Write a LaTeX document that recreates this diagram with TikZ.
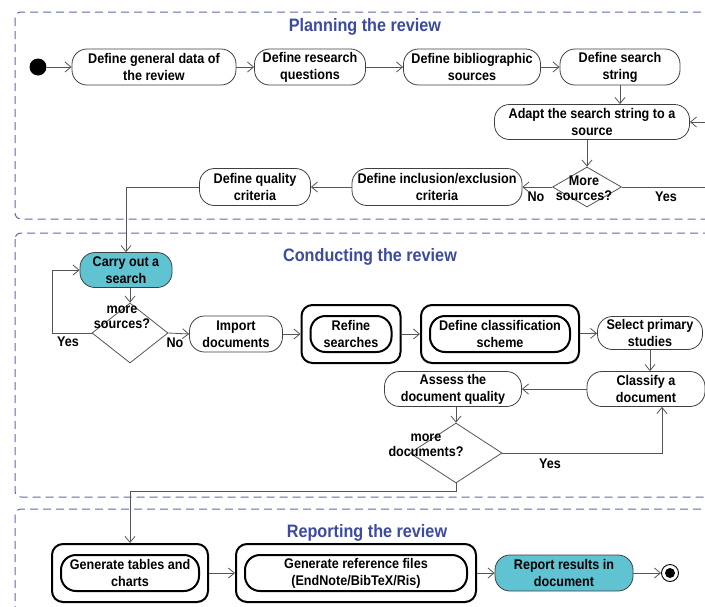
\documentclass[tikz,border=0pt]{standalone}
\usepackage{fontspec}
\setmainfont{Liberation Sans}[FakeStretch=0.9]
\usetikzlibrary{shapes.geometric,arrows.meta,fit}
\definecolor{panelblue}{RGB}{95,105,175}
\definecolor{titleblue}{RGB}{60,75,160}
\definecolor{actcyan}{RGB}{95,195,210}
\definecolor{flowgray}{RGB}{85,85,85}
\tikzset{
  act/.style={draw=black!75, line width=0.8pt, rounded corners=15pt, fill=white, align=center,
    font=\bfseries\fontsize{14}{17}\selectfont, inner sep=1pt, minimum height=36pt},
  actcyan/.style={act, fill=actcyan},
  actbold/.style={act, draw=black, line width=2pt},
  outerframe/.style={draw=black, line width=2pt, rounded corners=11pt, inner xsep=8pt, inner ysep=10pt},
  choice/.style={diamond, draw=flowgray, line width=0.8pt, inner sep=0pt},
  choicetext/.style={align=center, font=\bfseries\fontsize{14}{15}\selectfont, inner sep=0pt},
  guard/.style={font=\bfseries\fontsize{14}{14}\selectfont, inner sep=0pt},
  flow/.style={draw=flowgray, line width=0.8pt, -{Straight Barb[length=6pt,width=10pt]}},
  panel/.style={draw=panelblue, line width=1pt, dash pattern=on 8pt off 5pt, rounded corners=6pt},
  paneltitle/.style={text=titleblue, font=\bfseries\fontsize{18}{20}\selectfont}
}
\begin{document}
\begin{tikzpicture}[x=1pt,y=-1pt]
\clip (0,0) rectangle (705,606);
\fill[white] (0,0) rectangle (705,606);
% swimlanes
\draw[panel] (15,12) rectangle (730,219);
\draw[panel] (15,233) rectangle (730,497);
\draw[panel] (15,509) rectangle (730,625);
\node[paneltitle] (plan) at (365,27) {Planning the review};
\node[paneltitle] (cond) at (370,257) {Conducting the review};
\node[paneltitle] (rep) at (367,533) {Reporting the review};

% planning
\node[circle, fill=black, minimum size=17pt, inner sep=0pt] (start) at (38,67) {};
\node[act, minimum width=164pt] (gen) at (154,67) {Define general data of\\the review};
\node[act, minimum width=111pt] (rq) at (310,67) {Define research\\questions};
\node[act, minimum width=137pt] (bib) at (472,67) {Define bibliographic\\sources};
\node[act, minimum width=120pt] (str) at (620,67) {Define search\\string};
\node[act, minimum width=195pt, minimum height=35pt] (adapt) at (592,122) {Adapt the search string to a\\source};
\node[choice, minimum width=69pt, minimum height=40pt] (d1) at (587,187) {};
\node[choicetext] (d1t) at (584,188) {More\\sources?};
\node[act, minimum width=170pt, minimum height=37pt] (incl) at (437,187) {Define inclusion/exclusion\\criteria};
\node[act, minimum width=111pt, minimum height=37pt] (qual) at (255,187) {Define quality\\criteria};
\coordinate (yes1) at (725,187);
\node[guard] (no1) at (536,197) {No};
\node[guard] (y1) at (666,197) {Yes};

\draw[flow] (start) -- (gen);
\draw[flow] (gen) -- (rq);
\draw[flow] (rq) -- (bib);
\draw[flow] (bib) -- (str);
\draw[flow] (str.south) -- (str.south |- adapt.north);
\draw[flow] (adapt.south -| d1.north) -- (d1.north);
\draw[flow] (d1.west) -- (incl.east);
\draw[flow] (d1.east) -- (yes1) |- (adapt.east);
\draw[flow] (incl) -- (qual);

% conducting
\node[actcyan, minimum width=92pt, minimum height=35pt] (carry) at (126,270) {Carry out a\\search};
\node[choice, minimum width=76pt, minimum height=60pt] (d2) at (130,333) {};
\node[choicetext] (d2t) at (122,317) {more\\sources?};
\coordinate (yes2) at (52,333);
\node[guard] (y2) at (68,342) {Yes};
\node[guard] (no2) at (175,343) {No};
\node[act, minimum width=93pt] (imp) at (236,334) {Import\\documents};
\node[actbold, minimum width=81pt] (ref) at (351,334) {Refine\\searches};
\node[outerframe, fit=(ref)] (reff) {};
\node[actbold, minimum width=140pt] (cls) at (500,334) {Define classification\\scheme};
\node[outerframe, fit=(cls)] (clsf) {};
\node[act, minimum width=105pt, minimum height=33pt] (sel) at (650,333) {Select primary\\studies};
\node[act, minimum width=118pt, minimum height=35pt] (classify) at (646,389) {Classify a\\document};
\node[act, minimum width=137pt, minimum height=35pt] (assess) at (453,389) {Assess the\\document quality};
\node[choice, minimum width=92pt, minimum height=60pt] (d3) at (456,453) {};
\node[choicetext] (d3t) at (426,445) {more\\documents?};
\node[guard] (y3) at (550,464) {Yes};

\draw[flow] (qual.west) -| (carry.north);
\draw[flow] (carry.south -| d2.north) -- (d2.north);
\draw[flow] (d2.west) -- (yes2) |- (carry.west);
\draw[flow] (d2.east) -- (imp.west);
\draw[flow] (imp) -- (reff);
\draw[flow] (reff) -- (clsf);
\draw[flow] (clsf) -- (sel);
\draw[flow] (sel.south) -- (sel.south |- classify.north);
\draw[flow] (classify) -- (assess);
\draw[flow] (assess.south -| d3.north) -- (d3.north);
\draw[flow] (d3.east) -| ([xshift=16pt]classify.south);

% reporting
\node[actbold, minimum width=138pt] (tables) at (130,573) {Generate tables and\\charts};
\node[outerframe, fit=(tables)] (tablesf) {};
\node[actbold, minimum width=222pt] (refs) at (356,573) {Generate reference files\\(EndNote/BibTeX/Ris)};
\node[outerframe, fit=(refs)] (refsf) {};
\node[actcyan, minimum width=138pt] (report) at (564,573) {Report results in\\document};
\node[circle, draw=black, line width=0.9pt, minimum size=17pt, inner sep=0pt,
  path picture={\fill[black] (path picture bounding box.center) circle (5pt);}] (end) at (670,573) {};

\draw[flow] (d3.south) -- ++(0,8) -| (tablesf.north);
\draw[flow] (tablesf) -- (refsf);
\draw[flow] (refsf) -- (report);
\draw[flow] (report) -- (end);
\end{tikzpicture}
\end{document}
